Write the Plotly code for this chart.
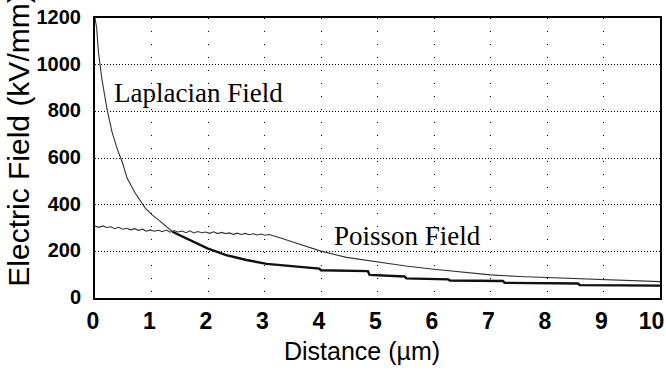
import plotly.graph_objects as go

# Laplacian field (kV/mm) vs distance (um)
lap_x = [0.0, 0.03, 0.06, 0.12, 0.21, 0.30, 0.39, 0.48, 0.57, 0.71, 0.89, 1.01, 1.13, 1.37,
         1.67, 1.99, 2.32, 2.68, 3.04, 3.30, 3.60, 3.97, 4.0, 4.40, 4.83, 4.86, 5.20, 5.48,
         5.51, 5.90, 6.25, 6.28, 6.80, 7.22, 7.25, 7.90, 8.55, 8.58, 9.30, 10.0]
lap_y = [1200, 1156, 1056, 941, 813, 713, 641, 584, 513, 450, 385, 356, 334, 284,
         249, 213, 184, 163, 146, 141, 132, 126, 119, 117, 115, 99, 95, 92,
         84, 82, 80, 75, 74, 73, 65, 64, 62, 55, 54, 53]

# Poisson field (kV/mm) vs distance (um)
poi_x = [0.0, 0.07, 0.14, 0.21, 0.28, 0.35, 0.42, 0.49, 0.56, 0.63, 0.70, 0.77, 0.84, 0.91,
         0.98, 1.05, 1.12, 1.19, 1.26, 1.33, 1.40, 1.47, 1.54, 1.61, 1.68, 1.75, 1.82, 1.89,
         1.96, 2.03, 2.10, 2.17, 2.24, 2.31, 2.38, 2.45, 2.52, 2.59, 2.66, 2.73, 2.80, 2.87,
         2.94, 3.01, 3.08, 3.15, 3.30, 3.50, 3.75, 4.0, 4.45, 5.0, 5.5, 6.0, 6.5, 7.0, 7.5,
         8.0, 8.5, 9.0, 9.5, 10.0]
poi_y = [308, 303, 309, 302, 305, 297, 303, 295, 299, 292, 297, 290, 295, 286,
         292, 286, 290, 284, 291, 282, 289, 283, 287, 280, 288, 279, 285, 280,
         283, 277, 284, 276, 281, 276, 279, 273, 278, 272, 277, 271, 275, 270,
         274, 269, 272, 266, 256, 240, 220, 201, 174, 153, 137, 123, 110, 99, 92,
         87, 83, 79, 75, 70]

x_ticks = [0, 1, 2, 3, 4, 5, 6, 7, 8, 9, 10]
x_tick_text = ["0", "1", "2", "3", "4", "5", "6", "7", "8", "9", "10\u00a0\u00a0"]
y_ticks = [0, 200, 400, 600, 800, 1000, 1200]

split = lap_x.index(1.37)

fig = go.Figure()
fig.add_trace(go.Scatter(x=lap_x, y=lap_y, mode="lines",
                         line=dict(color="#333333", width=1.1), showlegend=False))
fig.add_trace(go.Scatter(x=lap_x[split:], y=lap_y[split:], mode="lines",
                         line=dict(color="#111111", width=2.4), showlegend=False))
fig.add_trace(go.Scatter(x=poi_x, y=poi_y, mode="lines",
                         line=dict(color="#333333", width=1.1), showlegend=False))

tick_font = dict(family="Liberation Sans, Arial, sans-serif", color="black", weight="bold")

fig.update_xaxes(range=[0, 10], tickvals=x_ticks, ticktext=x_tick_text, automargin=False,
                 showgrid=True, gridcolor="black", gridwidth=1, griddash="1px,12px",
                 showline=True, linecolor="black", linewidth=2, mirror=True,
                 zeroline=False, ticks="", ticklabelstandoff=1, ticklabelshift=-2,
                 ticklabeloverflow="allow",
                 tickfont=dict(size=23, **tick_font))
fig.update_yaxes(range=[0, 1200], tickvals=y_ticks, ticktext=[str(v) for v in y_ticks],
                 automargin=False,
                 showgrid=True, gridcolor="black", gridwidth=1, griddash="1px,2px",
                 showline=True, linecolor="black", linewidth=2, mirror=True,
                 zeroline=False, ticks="", ticklabelstandoff=8, ticklabelshift=-1,
                 ticklabeloverflow="allow",
                 tickfont=dict(size=20, **tick_font))

serif = dict(family="Liberation Serif, Times New Roman, serif", size=27, color="black")
fig.add_annotation(x=1.83, y=880, text="Laplacian Field", showarrow=False, font=serif,
                   xanchor="center", yanchor="middle")
fig.add_annotation(x=5.53, y=264, text="Poisson Field", showarrow=False, font=serif,
                   xanchor="center", yanchor="middle")
fig.add_annotation(xref="paper", yref="paper", x=-0.136, y=0.5625, text="Electric Field (kV/mm)",
                   textangle=-90, showarrow=False,
                   font=dict(family="Liberation Sans, Arial, sans-serif", size=30, color="black"),
                   xanchor="center", yanchor="middle")
fig.add_annotation(xref="paper", yref="paper", x=0.473, y=-0.19, text="Distance (\u00b5m)",
                   showarrow=False,
                   font=dict(family="Liberation Sans, Arial, sans-serif", size=25, color="black"),
                   xanchor="center", yanchor="middle")

fig.update_layout(width=666, height=371, margin=dict(l=95, r=6, t=18, b=73),
                  paper_bgcolor="white", plot_bgcolor="white")

fig.write_html("out.html", config={"displayModeBar": False},
               post_script="document.body.style.margin='0px';")
